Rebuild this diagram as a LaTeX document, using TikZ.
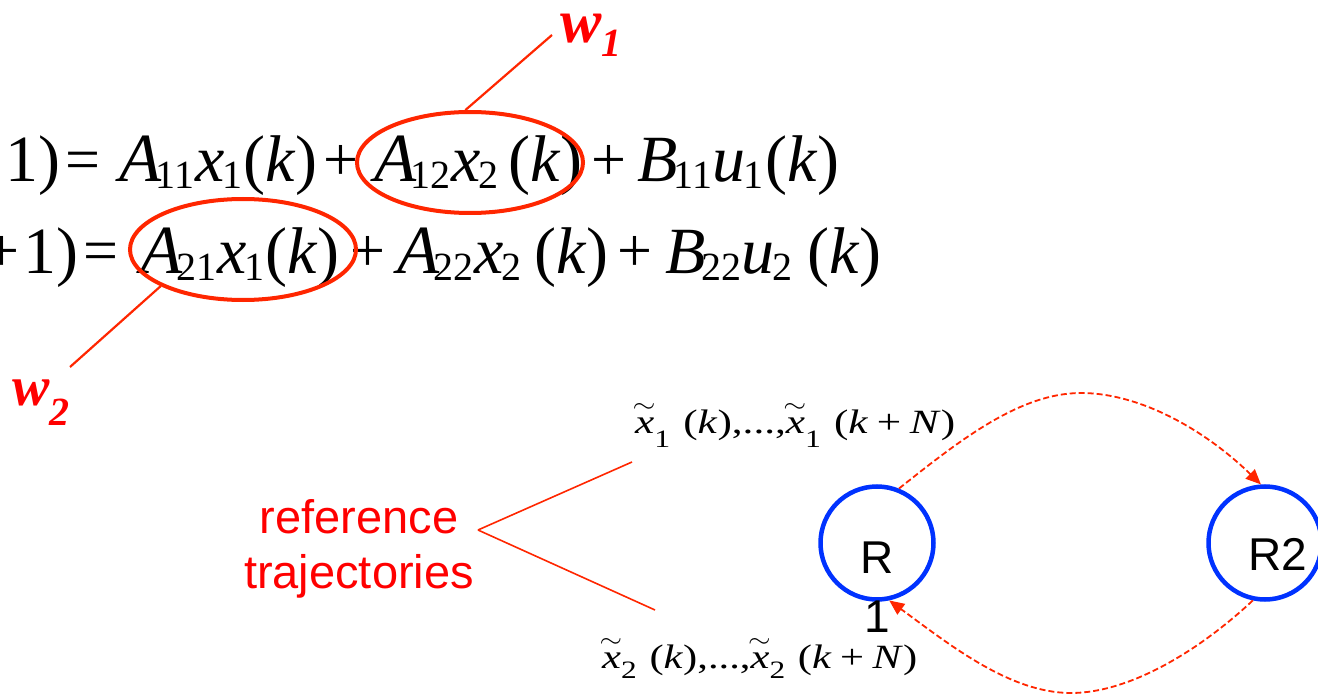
\documentclass[tikz,border=0pt]{standalone}
\usepackage{fontspec}
\usepackage{graphicx}
\setmainfont{Liberation Serif}
\newfontfamily\sansf{Liberation Sans}
\usetikzlibrary{arrows.meta,shapes.geometric}
\definecolor{lred}{RGB}{255,38,0}
\definecolor{tred}{RGB}{255,0,0}
\definecolor{cblue}{RGB}{0,50,255}
\newcommand\Sb[1]{\raisebox{-7pt}{\fontsize{40}{40}\selectfont #1}}
\newcommand\trm[2]{{\fontsize{69}{69}\selectfont\textit{A}}\kern-6pt\Sb{#1}\kern1pt\textit{x}\kern-2pt\Sb{#2}}
\newcommand\trmB[2]{\textit{B}\kern-4pt\Sb{#1}\kern0pt\textit{u}\kern-2pt\Sb{#2}}
\newcommand\kk{(\textit{k})}
\newcommand\tld{\makebox[0pt][l]{\hspace{-2pt}\raisebox{21pt}{\resizebox*{18pt}{9pt}{$\sim$}}}}
\newcommand\xt[2]{\tld\textit{x}\raisebox{-#2}{\fontsize{25}{25}\selectfont #1}}
\tikzset{
  eqt/.style={anchor=base west, inner sep=0pt, font=\fontsize{66}{66}\selectfont},
  eqop/.style={anchor=base west, inner sep=0pt, font=\fontsize{62}{62}\selectfont},
  ring/.style={draw=lred, line width=4pt, ellipse, minimum width=226pt, minimum height=101pt, inner sep=0pt},
  wlab/.style={text=tred, inner sep=0pt, anchor=base west},
  thin red/.style={draw=lred, line width=1.6pt},
  traj/.style={inner sep=0pt, anchor=base west, font=\fontsize{34}{34}\selectfont},
  robot/.style={circle, draw=cblue, line width=4.5pt, minimum size=113pt, inner sep=0pt},
  rlab/.style={font=\sansf\fontsize{46}{59}\selectfont, inner sep=0pt, align=center},
  msg/.style={draw=lred, line width=1.8pt, dash pattern=on 6pt off 3pt, -{Triangle[length=15pt,width=13pt]}}
}
\begin{document}
\begin{tikzpicture}[x=1pt,y=-1pt]
\useasboundingbox (0,0) rectangle (1318,695);
\clip (0,0) rectangle (1318,695);

% equation, first line
\node[eqt]  (e1a) at (5,182)   {1)};
\node[eqop] (e1b) at (65,180.5) {=};
\node[eqt]  (e1c) at (119,182) {\trm{11}{1}};
\node[eqt]  (e1d) at (243,182) {\kk};
\node[eqop] (e1e) at (323,180.5) {+};
\node[eqt]  (e1f) at (374,182) {\trm{12}{2}};
\node[eqt]  (e1g) at (508,182) {\kk};
\node[eqop] (e1h) at (591,180.5) {+};
\node[eqt]  (e1i) at (637,182) {\trmB{11}{1}};
\node[eqt]  (e1j) at (765,182) {\kk};
% equation, second line
\node[eqop] (e2a) at (-16,271.5) {+};
\node[eqt]  (e2b) at (23,273)  {1)};
\node[eqop] (e2c) at (83,271.5) {=};
\node[eqt]  (e2d) at (140,273) {\trm{21}{1}};
\node[eqt]  (e2e) at (265,273) {\kk};
\node[eqop] (e2f) at (350,271.5) {+};
\node[eqt]  (e2g) at (397,273) {\trm{22}{2}};
\node[eqt]  (e2h) at (534,273) {\kk};
\node[eqop] (e2i) at (617,271.5) {+};
\node[eqt]  (e2j) at (665,273) {\trmB{22}{2}};
\node[eqt]  (e2k) at (807,273) {\kk};

% circled terms
\node[ring] (el1) at (470,162.5) {};
\node[ring] (el2) at (243,249.5) {};

% w labels
\node[wlab] (w1) at (560,43) {\fontsize{62}{62}\selectfont\bfseries\itshape w\raisebox{-14pt}{\fontsize{40}{40}\selectfont 1}};
\node[wlab] (w2) at (12,405) {\fontsize{56}{56}\selectfont\bfseries\itshape w\raisebox{-20pt}{\fontsize{40}{40}\selectfont 2}};
\coordinate (w1end) at (552,35);
\coordinate (w2end) at (70,367);
\draw[draw=lred, line width=2.2pt] (el1.95) -- (w1end);
\draw[draw=lred, line width=2.2pt] (el2.204) -- (w2end);

% reference trajectories
\node[font=\sansf\fontsize{47}{55}\selectfont, text=tred, align=center, inner sep=0pt] (ref) at (359,549) {reference\\trajectories};
\node[traj] (tr1) at (635,433) {\resizebox{320pt}{\height}{\xt{1}{14pt}\hspace{0.3em}(\textit{k}),...,\xt{1}{14pt}\hspace{0.3em}(\textit{k}\hspace{0.2em}+\hspace{0.2em}\textit{N})}};
\node[traj] (tr2) at (602,668) {\resizebox{315pt}{\height}{\xt{2}{10pt}\hspace{0.3em}(\textit{k}),...,\xt{2}{10pt}\hspace{0.3em}(\textit{k}\hspace{0.2em}+\hspace{0.2em}\textit{N})}};
\coordinate (refpt) at (478,530);
\coordinate (tr1pt) at (632,462);
\coordinate (tr2pt) at (655,610);
\draw[thin red] (refpt) -- (tr1pt);
\draw[thin red] (refpt) -- (tr2pt);

% robots
\node[robot] (R1) at (877,543) {};
\node[robot] (R2) at (1265,543) {};
\node[rlab] (R1t) at (877,587) {R\\1};
\node[rlab, anchor=base] (R2t) at (1278,570) {R2};

% messages
\coordinate (toppeak) at (1081,393);
\coordinate (botlow) at (1071,693);
\draw[msg] (R1.68) .. controls (960,440) and (1020,393) .. (toppeak) .. controls (1140,393) and (1205,430) .. (R2.94);
\draw[msg] (R2.258) .. controls (1200,650) and (1130,693) .. (botlow) .. controls (1010,693) and (950,645) .. (R1.-78);
\end{tikzpicture}
\end{document}
